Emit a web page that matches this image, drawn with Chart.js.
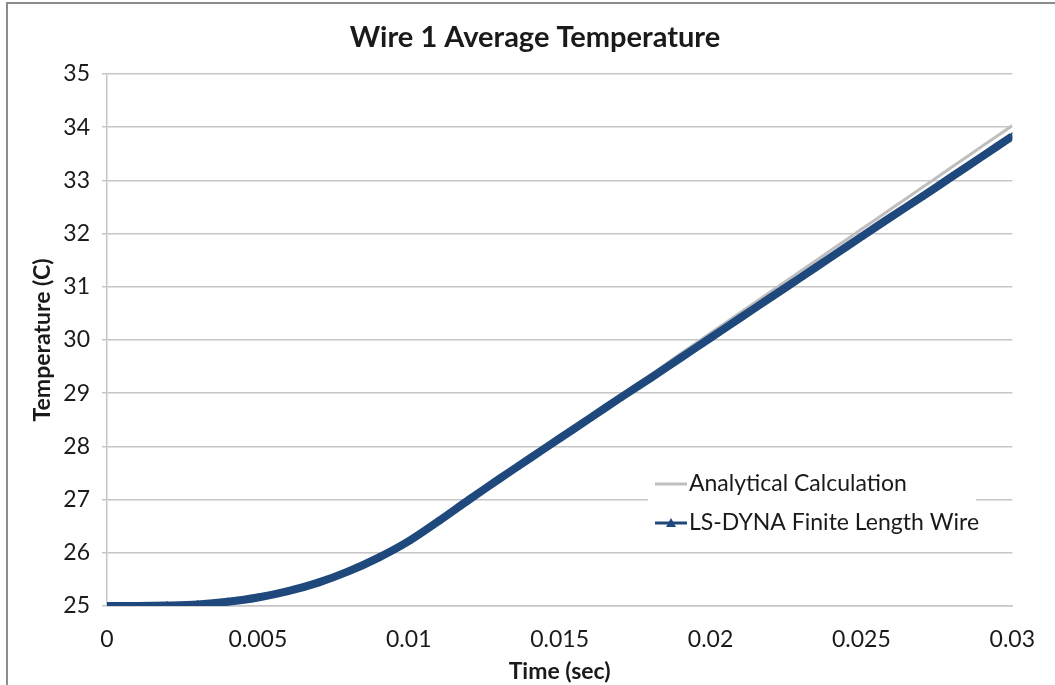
<!DOCTYPE html>
<html>
<head>
<meta charset="utf-8">
<script src="https://cdn.jsdelivr.net/npm/chart.js@4/dist/chart.umd.min.js"></script>
<style>
  html, body { margin: 0; padding: 0; background: #fff; }
  #wrap { width: 1055px; height: 685px; }
</style>
</head>
<body>
<div id="wrap"><canvas id="grafico" width="1055" height="685"></canvas></div>
<script>
// tempo (s)
var tempo = [0, 0.001, 0.002, 0.003, 0.004, 0.005, 0.006, 0.007, 0.008, 0.009, 0.01,
  0.011, 0.012, 0.013, 0.014, 0.015, 0.016, 0.017, 0.018, 0.019, 0.02,
  0.021, 0.022, 0.023, 0.024, 0.025, 0.026, 0.027, 0.028, 0.029, 0.03];

var analitico = [25.00, 25.00, 25.01, 25.03, 25.08, 25.16, 25.28, 25.44, 25.65, 25.91, 26.22,
  26.59, 26.98, 27.37, 27.77, 28.17, 28.56, 28.95, 29.34, 29.74, 30.13,
  30.52, 30.91, 31.30, 31.69, 32.08, 32.47, 32.86, 33.25, 33.64, 34.03];

var lsDyna = [25.00, 25.00, 25.01, 25.03, 25.08, 25.16, 25.28, 25.44, 25.65, 25.91, 26.22,
  26.60, 27.00, 27.39, 27.77, 28.15, 28.53, 28.91, 29.28, 29.66, 30.04,
  30.42, 30.80, 31.18, 31.56, 31.94, 32.32, 32.69, 33.07, 33.45, 33.83];

var xTicks = [0, 0.005, 0.01, 0.015, 0.02, 0.025, 0.03];
var xTickLabels = ["0", "0.005", "0.01", "0.015", "0.02", "0.025", "0.03"];
var legendLabels = ["Analytical Calculation", "LS-DYNA Finite Length Wire"];
var tituloGrafico = "Wire 1 Average Temperature";

var corCinza = "#bfbfbf";
var corAzul = "#1f497d";
var fonte = "Lato, 'Open Sans', sans-serif";

function pontos(valores) {
  var lista = [];
  for (var i = 0; i < tempo.length; i++) {
    lista.push({ x: tempo[i], y: valores[i] });
  }
  return lista;
}

// moldura, titulo e legenda ficam num plugin
var extras = {
  id: "extras",
  afterDraw: function (chart) {
    var ctx = chart.ctx;
    ctx.save();
    // moldura do grafico (so esquerda e topo aparecem)
    ctx.strokeStyle = "#8c8c8c";
    ctx.lineWidth = 2;
    ctx.beginPath();
    ctx.moveTo(7, 685);
    ctx.lineTo(7, 3);
    ctx.lineTo(1055, 3);
    ctx.stroke();

    // titulo
    ctx.fillStyle = "#1a1a1a";
    ctx.font = "bold 29px " + fonte;
    ctx.textAlign = "center";
    ctx.textBaseline = "middle";
    ctx.fillText(tituloGrafico, 535, 38);

    // legenda dentro da area
    ctx.textAlign = "left";
    ctx.fillStyle = "#fff";
    ctx.fillRect(648, 464, 328, 82);

    ctx.font = "23px " + fonte;
    ctx.fillStyle = "#1a1a1a";

    ctx.strokeStyle = corCinza;
    ctx.lineWidth = 3;
    ctx.beginPath();
    ctx.moveTo(655, 484);
    ctx.lineTo(687, 484);
    ctx.stroke();
    ctx.fillText(legendLabels[0], 689, 484);

    ctx.strokeStyle = corAzul;
    ctx.lineWidth = 3;
    ctx.beginPath();
    ctx.moveTo(655, 523);
    ctx.lineTo(687, 523);
    ctx.stroke();
    ctx.fillStyle = corAzul;
    ctx.beginPath();
    ctx.moveTo(671, 518);
    ctx.lineTo(676, 527);
    ctx.lineTo(666, 527);
    ctx.closePath();
    ctx.fill();
    ctx.fillStyle = "#1a1a1a";
    ctx.fillText(legendLabels[1], 689, 523);
    ctx.restore();
  },
};

new Chart(grafico, {
  type: "line",
  data: {
    datasets: [
      {
        label: legendLabels[0],
        data: pontos(analitico),
        borderColor: corCinza,
        borderWidth: 3,
        pointRadius: 0,
        tension: 0.3,
        order: 1,
      },
      {
        label: legendLabels[1],
        data: pontos(lsDyna),
        borderColor: corAzul,
        backgroundColor: corAzul,
        borderWidth: 8,
        pointStyle: "triangle",
        pointRadius: 4,
        pointBackgroundColor: corAzul,
        pointBorderColor: corAzul,
        pointBorderWidth: 1,
        tension: 0.3,
        order: 0,
      },
    ],
  },
  options: {
    responsive: false,
    animation: false,
    layout: {
      padding: { left: 0, right: 38, top: 74, bottom: 0 },
    },
    scales: {
      x: {
        type: "linear",
        min: 0,
        max: 0.03,
        afterBuildTicks: function (scale) {
          scale.ticks = xTicks.map(function (v) { return { value: v }; });
        },
        afterFit: function (scale) {
          scale.height = 79;
        },
        grid: {
          display: false,
          drawTicks: false,
        },
        border: {
          display: true,
          color: "#c6c6c6",
          width: 1.5,
        },
        ticks: {
          padding: 20,
          maxRotation: 0,
          color: "#1a1a1a",
          font: { family: fonte, size: 23 },
          callback: function (value, index) {
            return xTickLabels[index];
          },
        },
        title: {
          display: true,
          text: "Time (sec)",
          color: "#1a1a1a",
          font: { family: fonte, size: 23, weight: "bold" },
          padding: { top: 0, bottom: 0 },
        },
      },
      y: {
        min: 25,
        max: 35,
        afterFit: function (scale) {
          scale.width = 107;
        },
        grid: {
          color: "#c6c6c6",
          lineWidth: 1.5,
          drawTicks: true,
          tickLength: 5,
        },
        border: {
          display: true,
          color: "#c6c6c6",
          width: 1.5,
        },
        ticks: {
          stepSize: 1,
          padding: 12,
          color: "#1a1a1a",
          font: { family: fonte, size: 23 },
        },
        title: {
          display: true,
          text: "Temperature (C)",
          color: "#1a1a1a",
          font: { family: fonte, size: 23, weight: "bold" },
          padding: { top: 29, bottom: 0 },
        },
      },
    },
    plugins: {
      legend: { display: false },
      tooltip: { enabled: false },
      title: { display: false },
    },
  },
  plugins: [extras],
});
</script>
</body>
</html>
